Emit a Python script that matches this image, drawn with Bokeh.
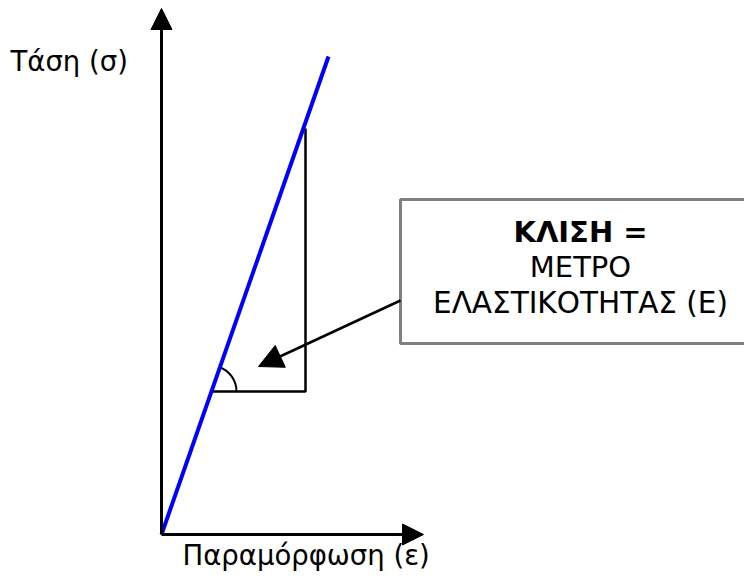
from bokeh.plotting import figure
from bokeh.models import Range1d, Arrow, NormalHead, Label
from bokeh.embed import file_html
from bokeh.resources import INLINE
import math

# ---- diagram data (units: strain along x, stress along y, arbitrary) ----
strain_axis_end = 262          # x-axis arrow tip
stress_axis_end = 526          # y-axis arrow tip
line_x = [0, 167]              # linear elastic line
line_y = [0, 478]
tri_x = [49, 144, 144]         # slope triangle
tri_y = [143, 143, 406]
pointer_start = (239, 234)
pointer_end = (97, 168)
box_left, box_right, box_bottom, box_top = 239, 700, 191, 335

y_label = "Τάση (σ)"
x_label = "Παραμόρφωση (ε)"
box_lines = ["ΚΛΙΣΗ =", "ΜΕΤΡΟ", "ΕΛΑΣΤΙΚΟΤΗΤΑΣ (Ε)"]

FONT = "DejaVu Sans"

p = figure(width=744, height=572, output_backend="svg", toolbar_location=None,
           x_range=Range1d(-161, 583), y_range=Range1d(-38, 534), min_border=0)
p.axis.visible = False
p.grid.visible = False
p.outline_line_color = None
p.background_fill_color = "white"

# axes as arrows
p.add_layout(Arrow(end=NormalHead(size=21, fill_color="black", line_color="black", line_width=1),
                   x_start=0, y_start=0, x_end=0, y_end=stress_axis_end,
                   line_width=3, line_color="black"))
p.add_layout(Arrow(end=NormalHead(size=21, fill_color="black", line_color="black", line_width=1),
                   x_start=0, y_start=0, x_end=strain_axis_end, y_end=0,
                   line_width=3, line_color="black"))

# slope triangle
p.line(tri_x, tri_y, line_color="black", line_width=2.5)

# angle arc
ang = math.atan2(line_y[1] - line_y[0], line_x[1] - line_x[0])
p.arc(x=[tri_x[0]], y=[tri_y[0]], radius=26, radius_units="screen",
      start_angle=0, end_angle=ang, line_color="black", line_width=2)

# elastic line
p.line(line_x, line_y, line_color="#0000ff", line_width=4)

# pointer arrow
p.add_layout(Arrow(end=NormalHead(size=24, fill_color="black", line_color="black", line_width=1),
                   x_start=pointer_start[0], y_start=pointer_start[1],
                   x_end=pointer_end[0], y_end=pointer_end[1],
                   line_width=2.5, line_color="black"))

# callout box
p.quad(left=[box_left], right=[box_right], bottom=[box_bottom], top=[box_top],
       fill_color="white", line_color="#808080", line_width=3)

cx = 419
p.add_layout(Label(x=cx, y=302.5, text=box_lines[0], text_font=FONT, text_font_size="29px",
                   text_font_style="bold", text_align="center", text_baseline="middle",
                   text_color="black"))
p.add_layout(Label(x=cx, y=267.5, text=box_lines[1], text_font=FONT, text_font_size="29px",
                   text_align="center", text_baseline="middle", text_color="black"))
p.add_layout(Label(x=cx, y=232, text=box_lines[2], text_font=FONT, text_font_size="29.5px",
                   text_align="center", text_baseline="middle", text_color="black"))

p.add_layout(Label(x=-151, y=474, text=y_label, text_font=FONT, text_font_size="27.5px",
                   text_align="left", text_baseline="middle", text_color="black"))
p.add_layout(Label(x=21, y=-20, text=x_label, text_font=FONT, text_font_size="27.5px",
                   text_align="left", text_baseline="middle", text_color="black"))

open("out.html", "w").write(file_html(p, INLINE))
